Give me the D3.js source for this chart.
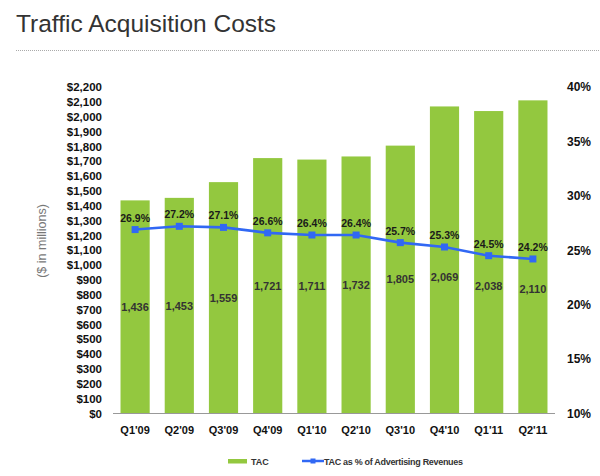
<!DOCTYPE html>
<html>
<head>
<meta charset="utf-8">
<script src="https://cdn.jsdelivr.net/npm/d3@7"></script>
<style>
  html, body { margin: 0; padding: 0; background: #fff; }
  svg { display: block; font-family: "Liberation Sans", Arial, Helvetica, sans-serif; }
</style>
</head>
<body>
<svg id="chart" width="600" height="476"></svg>
<script>
const categories = ["Q1'09", "Q2'09", "Q3'09", "Q4'09", "Q1'10", "Q2'10", "Q3'10", "Q4'10", "Q1'11", "Q2'11"];
const tacValues = [1436, 1453, 1559, 1721, 1711, 1732, 1805, 2069, 2038, 2110];
const tacPercent = [26.9, 27.2, 27.1, 26.6, 26.4, 26.4, 25.7, 25.3, 24.5, 24.2];
const leftTicks = d3.range(0, 2201, 100);
const rightTicks = [10, 15, 20, 25, 30, 35, 40];
const titleText = "Traffic Acquisition Costs";
const yAxisTitle = "($ in millions)";
const legendLabels = ["TAC", "TAC as % of Advertising Revenues"];

const green = "#93C83F";
const blue = "#3168F4";

const svg = d3.select("#chart");

// Title
svg.append("text")
  .attr("x", 16).attr("y", 32)
  .attr("font-size", 24.5)
  .attr("fill", "#333")
  .text(titleText);

svg.append("line")
  .attr("x1", 16).attr("x2", 600)
  .attr("y1", 50.5).attr("y2", 50.5)
  .attr("stroke", "#aaa")
  .attr("stroke-width", 1)
  .attr("stroke-dasharray", "1,1");

const x = d3.scaleBand().domain(categories).range([113, 555]).paddingInner(0.34).paddingOuter(0.17);
const yL = d3.scaleLinear().domain([0, 2200]).range([413.5, 87]);
const yR = d3.scaleLinear().domain([10, 40]).range([413.5, 87]);

// Bars
svg.append("g").selectAll("rect")
  .data(tacValues)
  .join("rect")
  .attr("x", (d, i) => x(categories[i]))
  .attr("y", d => yL(d))
  .attr("width", x.bandwidth())
  .attr("height", d => yL(0) - yL(d))
  .attr("fill", green);

// Baseline
svg.append("line")
  .attr("x1", 113).attr("x2", 555)
  .attr("y1", 413.5).attr("y2", 413.5)
  .attr("stroke", "#999").attr("stroke-width", 1);

// Left axis
const leftAxis = d3.axisLeft(yL).tickValues(leftTicks).tickSize(0).tickPadding(0)
  .tickFormat(d => "$" + d3.format(",")(d));
const gl = svg.append("g").attr("transform", "translate(102,0)").call(leftAxis);
gl.select(".domain").remove();
gl.selectAll("text").attr("font-size", 11.5).attr("font-weight", "bold").attr("fill", "#111")
  .attr("font-family", "'Liberation Sans', Arial, sans-serif");

// Right axis
const rightAxis = d3.axisRight(yR).tickValues(rightTicks).tickSize(0).tickPadding(0)
  .tickFormat(d => d + "%");
const gr = svg.append("g").attr("transform", "translate(567,0)").call(rightAxis);
gr.select(".domain").remove();
gr.selectAll("text").attr("font-size", 12).attr("font-weight", "bold").attr("fill", "#111")
  .attr("font-family", "'Liberation Sans', Arial, sans-serif");

// X axis
const xAxis = d3.axisBottom(x).tickSize(0).tickPadding(0);
const gx = svg.append("g").attr("transform", "translate(0,426)").call(xAxis);
gx.select(".domain").remove();
gx.selectAll("text").attr("font-size", 11).attr("font-weight", "bold").attr("fill", "#111")
  .attr("font-family", "'Liberation Sans', Arial, sans-serif");

// Y axis title
svg.append("text")
  .attr("transform", "translate(46,241) rotate(-90)")
  .attr("text-anchor", "middle")
  .attr("font-size", 12.5)
  .attr("fill", "#777")
  .text(yAxisTitle);

// Line
const cx = (i) => x(categories[i]) + x.bandwidth() / 2;
const line = d3.line().x((d, i) => cx(i)).y(d => yR(d));
svg.append("path")
  .datum(tacPercent)
  .attr("d", line)
  .attr("fill", "none")
  .attr("stroke", blue)
  .attr("stroke-width", 2.6);

svg.append("g").selectAll("rect")
  .data(tacPercent)
  .join("rect")
  .attr("x", (d, i) => cx(i) - 3.5)
  .attr("y", d => yR(d) - 3.5)
  .attr("width", 7).attr("height", 7)
  .attr("fill", blue);

// Percent labels
svg.append("g").selectAll("text")
  .data(tacPercent)
  .join("text")
  .attr("x", (d, i) => cx(i))
  .attr("y", d => yR(d) - 8)
  .attr("text-anchor", "middle")
  .attr("font-size", 10.5)
  .attr("font-weight", "bold")
  .attr("fill", "#1a1a1a")
  .text(d => d.toFixed(1) + "%");

// Value labels (mid-bar, pushed below the line when they would collide)
svg.append("g").selectAll("text")
  .data(tacValues)
  .join("text")
  .attr("x", (d, i) => cx(i))
  .attr("y", (d, i) => {
    let mid = (yL(0) + yL(d)) / 2;
    const ly = yR(tacPercent[i]);
    if (Math.abs(mid - ly) < 28) mid = ly + 30;
    return mid;
  })
  .attr("dy", "0.35em")
  .attr("text-anchor", "middle")
  .attr("font-size", 11)
  .attr("font-weight", "bold")
  .attr("fill", "#333")
  .text(d => d3.format(",")(d));

// Legend
const lg = svg.append("g");
lg.append("rect").attr("x", 228).attr("y", 459).attr("width", 19).attr("height", 4.5).attr("fill", green);
lg.append("text").attr("x", 251).attr("y", 464.5).attr("font-size", 9).attr("font-weight", "bold").attr("fill", "#333").text(legendLabels[0]);
lg.append("line").attr("x1", 302).attr("x2", 324).attr("y1", 461).attr("y2", 461).attr("stroke", blue).attr("stroke-width", 2.5);
lg.append("rect").attr("x", 310.5).attr("y", 458.5).attr("width", 5).attr("height", 5).attr("fill", blue);
lg.append("text").attr("x", 324).attr("y", 464.5).attr("font-size", 9).attr("font-weight", "bold").attr("fill", "#333")
  .attr("textLength", 139).attr("lengthAdjust", "spacing").text(legendLabels[1]);
</script>
</body>
</html>
